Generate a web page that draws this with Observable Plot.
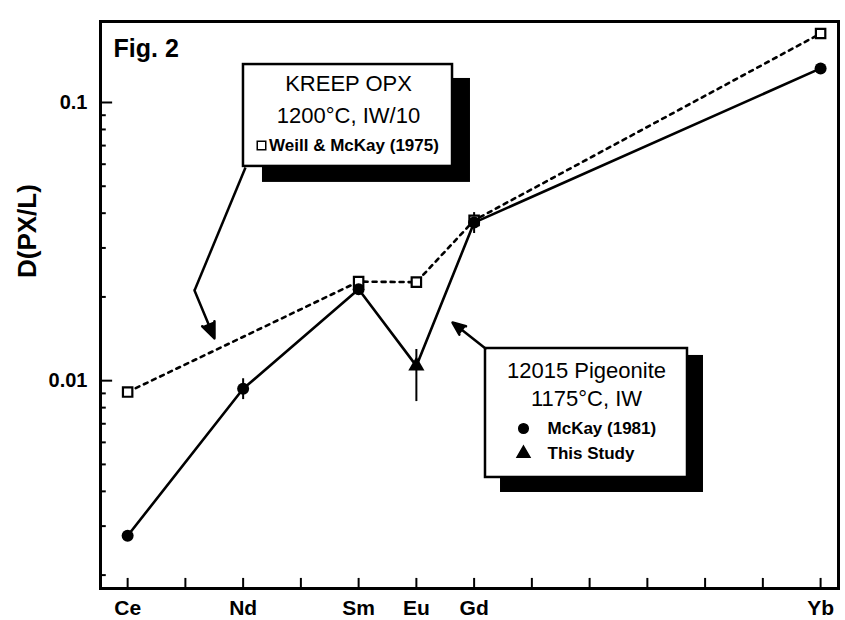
<!DOCTYPE html>
<html><head><meta charset="utf-8">
<script src="https://cdn.jsdelivr.net/npm/d3@7"></script>
<script src="https://cdn.jsdelivr.net/npm/@observablehq/plot@0.6"></script>
<style>
html,body{margin:0;padding:0;background:#fff;}
#chart{width:845px;height:620px;}
</style>
</head><body><div id="chart"></div>
<script>
// ---- data ----
const elements = ["Ce", "Nd", "Sm", "Eu", "Gd", "Yb"];
const atomicNumbers = [58, 60, 62, 63, 64, 70];
const weillMcKay1975 = [0.0091, null, 0.0227, 0.0226, 0.0377, 0.177];   // KREEP OPX, open squares
const mcKay1981 = [0.00277, 0.00935, 0.0213, null, 0.0370, 0.1326];     // 12015 pigeonite, circles
const thisStudy = [null, null, null, 0.0113, null, null];               // triangles
const errLow = [null, 0.00855, null, 0.00841, 0.0338, null];
const errHigh = [null, 0.01016, null, 0.01294, 0.0402, null];
const xTickValues = [58, 59, 60, 61, 62, 63, 64, 65, 66, 67, 68, 69, 70];
const yMajorTicks = [0.01, 0.1];
const yTickLabels = ["0.01", "0.1"];
const yMinorTicks = [0.002, 0.003, 0.004, 0.005, 0.006, 0.007, 0.008, 0.009,
                     0.02, 0.03, 0.04, 0.05, 0.06, 0.07, 0.08, 0.09];

// annotation boxes (data units)
const shadowBoxes = [
  {x1: 60.335, x2: 63.937, y1: 0.0516, y2: 0.1220},
  {x1: 64.457, x2: 67.972, y1: 0.003963, y2: 0.01232}
];
const legendBoxes = [
  {x1: 60.006, x2: 63.626, y1: 0.0589, y2: 0.1369},
  {x1: 64.197, x2: 67.695, y1: 0.004487, y2: 0.01305}
];
const boxTitles = [
  {text: "KREEP OPX", x: 61.825, y: 0.1165},
  {text: "1200°C, IW/10", x: 61.825, y: 0.0894},
  {text: "12015 Pigeonite", x: 65.946, y: 0.01088},
  {text: "1175°C, IW", x: 65.946, y: 0.00863}
];
const legendEntries = [
  {text: "Weill & McKay (1975)", symbol: "square", fill: "white", x: 60.318, tx: 60.45, y: 0.0701},
  {text: "McKay (1981)", symbol: "circle", fill: "black", x: 64.855, tx: 65.271, y: 0.006731},
  {text: "This Study", symbol: "triangle", fill: "black", x: 64.855, tx: 65.271, y: 0.005473}
];
const pointerLines = [
  {x1: 60.041, y1: 0.05839, x2: 59.158, y2: 0.02109}
];
const pointerArrows = [
  {x1: 59.158, y1: 0.02109, x2: 59.504, y2: 0.01418},
  {x1: 64.197, y1: 0.01305, x2: 63.626, y2: 0.01618}
];

// ---- build tables ----
const rows = (vals) => atomicNumbers.map((z, i) => ({z, el: elements[i], v: vals[i]})).filter(d => d.v != null);
const weillRows = rows(weillMcKay1975);
const mcRows = rows(mcKay1981);
const studyRows = rows(thisStudy);
const solidRows = rows(atomicNumbers.map((z, i) => mcKay1981[i] ?? thisStudy[i]));
const errRows = atomicNumbers.map((z, i) => ({z, lo: errLow[i], hi: errHigh[i]})).filter(d => d.lo != null);

const xDomain = [57.53, 70.31];
const yDomain = [0.00179, 0.1955];
const font = "'Liberation Sans', Arial, Helvetica, sans-serif";

const chart = Plot.plot({
  width: 845,
  height: 620,
  marginLeft: 100,
  marginRight: 7,
  marginTop: 21,
  marginBottom: 32,
  style: {fontFamily: font, background: "white", color: "black"},
  x: {domain: xDomain},
  y: {type: "log", domain: yDomain},
  marks: [
    // inward ticks
    Plot.ruleX(xTickValues, {x: d => d, y1: yDomain[0], y2: yDomain[0] * 1.087, strokeWidth: 2}),
    Plot.ruleY(yMajorTicks, {y: d => d, x1: xDomain[0], x2: xDomain[0] + 0.21, strokeWidth: 2}),
    Plot.ruleY(yMinorTicks, {y: d => d, x1: xDomain[0], x2: xDomain[0] + 0.1, strokeWidth: 2}),
    Plot.axisX({ticks: atomicNumbers, tickFormat: d => elements[atomicNumbers.indexOf(d)], tickSize: 0, tickPadding: 12,
                fontSize: 21, fontWeight: "bold", label: null}),
    Plot.axisY({ticks: yMajorTicks, tickFormat: d => yTickLabels[yMajorTicks.indexOf(d)], tickSize: 0, tickPadding: 13,
                fontSize: 20, fontWeight: "bold", label: null}),
    Plot.text(["D(PX/L)"], {text: d => d, frameAnchor: "left", rotate: -90, dx: -73, dy: -27, fontSize: 26, fontWeight: "bold"}),
    Plot.text(["Fig. 2"], {text: d => d, frameAnchor: "top-left", textAnchor: "start", lineAnchor: "top", dx: 13, dy: 18, fontSize: 25, fontWeight: "bold"}),
    // data
    Plot.line(weillRows, {x: "z", y: "v", stroke: "black", strokeWidth: 2.6, strokeDasharray: "4,5"}),
    Plot.line(solidRows, {x: "z", y: "v", stroke: "black", strokeWidth: 2.6}),
    Plot.ruleX(errRows, {x: "z", y1: "lo", y2: "hi", stroke: "black", strokeWidth: 2}),
    Plot.dot(weillRows, {x: "z", y: "v", symbol: "square", r: 5.3, fill: "white", stroke: "black", strokeWidth: 2.2}),
    Plot.dot(mcRows, {x: "z", y: "v", symbol: "circle", r: 6, fill: "black"}),
    Plot.dot(studyRows, {x: "z", y: "v", symbol: "triangle", r: 6, fill: "black"}),
    // annotation boxes
    Plot.rect(shadowBoxes, {x1: "x1", x2: "x2", y1: "y1", y2: "y2", fill: "black"}),
    Plot.rect(legendBoxes, {x1: "x1", x2: "x2", y1: "y1", y2: "y2", fill: "white", stroke: "black", strokeWidth: 2.5}),
    Plot.text(boxTitles, {x: "x", y: "y", text: "text", fontSize: 22, fill: "black"}),
    Plot.dot(legendEntries, {x: "x", y: "y", symbol: "symbol", fill: "fill", stroke: "black", strokeWidth: 1.5, r: 4.8}),
    Plot.text(legendEntries, {x: "tx", y: "y", text: "text", textAnchor: "start", fontSize: 17, fontWeight: "bold", fill: "black"}),
    Plot.link(pointerLines, {x1: "x1", y1: "y1", x2: "x2", y2: "y2", stroke: "black", strokeWidth: 2.5}),
    Plot.arrow(pointerArrows, {x1: "x1", y1: "y1", x2: "x2", y2: "y2", stroke: "black", fill: "black", strokeWidth: 2.5, headLength: 20, headAngle: 45}),
    Plot.frame({stroke: "black", strokeWidth: 3})
  ]
});
document.getElementById("chart").appendChild(chart);
</script>
</body></html>
